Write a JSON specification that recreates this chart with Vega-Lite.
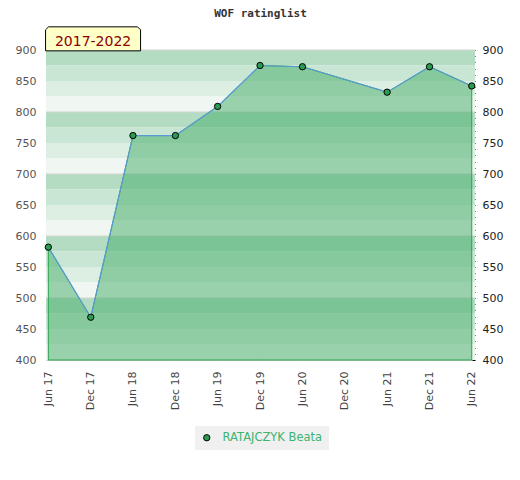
{
  "$schema": "https://vega.github.io/schema/vega-lite/v6.json",
  "width": 429,
  "height": 310,
  "autosize": "none",
  "padding": {"left": 46, "top": 50, "right": 45, "bottom": 120},
  "background": "#ffffff",
  "title": {"text": "WOF ratinglist", "font": "DejaVu Sans Mono", "fontSize": 11, "fontWeight": "bold", "color": "#333333", "anchor": "middle", "offset": 6},
  "datasets": {
    "bands": [
      {"lo": 875, "hi": 900, "shade": "q1"}, {"lo": 850, "hi": 875, "shade": "q2"}, {"lo": 825, "hi": 850, "shade": "q3"}, {"lo": 800, "hi": 825, "shade": "q4"},
      {"lo": 775, "hi": 800, "shade": "q1"}, {"lo": 750, "hi": 775, "shade": "q2"}, {"lo": 725, "hi": 750, "shade": "q3"}, {"lo": 700, "hi": 725, "shade": "q4"},
      {"lo": 675, "hi": 700, "shade": "q1"}, {"lo": 650, "hi": 675, "shade": "q2"}, {"lo": 625, "hi": 650, "shade": "q3"}, {"lo": 600, "hi": 625, "shade": "q4"},
      {"lo": 575, "hi": 600, "shade": "q1"}, {"lo": 550, "hi": 575, "shade": "q2"}, {"lo": 525, "hi": 550, "shade": "q3"}, {"lo": 500, "hi": 525, "shade": "q4"},
      {"lo": 475, "hi": 500, "shade": "q1"}, {"lo": 450, "hi": 475, "shade": "q2"}, {"lo": 425, "hi": 450, "shade": "q3"}, {"lo": 400, "hi": 425, "shade": "q4"}
    ],
    "grid": [{"g": 500}, {"g": 600}, {"g": 700}, {"g": 800}, {"g": 900}],
    "ratings": [
      {"date": "2017-06-01", "rating": 582, "player": "RATAJCZYK Beata"},
      {"date": "2017-12-01", "rating": 469, "player": "RATAJCZYK Beata"},
      {"date": "2018-06-01", "rating": 762, "player": "RATAJCZYK Beata"},
      {"date": "2018-12-01", "rating": 762, "player": "RATAJCZYK Beata"},
      {"date": "2019-06-01", "rating": 809, "player": "RATAJCZYK Beata"},
      {"date": "2019-12-01", "rating": 875, "player": "RATAJCZYK Beata"},
      {"date": "2020-06-01", "rating": 873, "player": "RATAJCZYK Beata"},
      {"date": "2021-06-01", "rating": 832, "player": "RATAJCZYK Beata"},
      {"date": "2021-12-01", "rating": 873, "player": "RATAJCZYK Beata"},
      {"date": "2022-06-01", "rating": 842, "player": "RATAJCZYK Beata"}
    ],
    "badge": [{"span": "2017-2022"}]
  },
  "layer": [
    {
      "data": {"name": "bands"},
      "mark": {"type": "rect"},
      "encoding": {
        "y": {"field": "lo", "type": "quantitative", "scale": {"domain": [400, 900], "nice": false, "zero": false}, "axis": {"title": null, "values": [400, 450, 500, 550, 600, 650, 700, 750, 800, 850, 900]}},
        "y2": {"field": "hi"},
        "fill": {"field": "shade", "type": "nominal", "scale": {"domain": ["q1", "q2", "q3", "q4"], "range": ["#b3dcc2", "#c8e6d3", "#ddefe3", "#f0f7f2"]}, "legend": null}
      }
    },
    {
      "data": {"name": "grid"},
      "mark": {"type": "rule", "stroke": "#d4d4d4", "strokeWidth": 1},
      "encoding": {
        "y": {"field": "g", "type": "quantitative", "scale": {"domain": [400, 900], "nice": false, "zero": false}, "axis": null}
      }
    },
    {
      "data": {"name": "ratings"},
      "mark": {"type": "area", "fill": "#44ac68", "fillOpacity": 0.5, "stroke": "#27a34c", "strokeWidth": 1},
      "encoding": {
        "x": {"field": "date", "type": "temporal", "scale": {"type": "utc", "domain": [{"year": 2017, "month": 5, "date": 22, "utc": true}, {"year": 2022, "month": 6, "date": 15, "utc": true}]},
          "axis": {"title": null, "format": "%b %y", "values": [
            {"year": 2017, "month": 6, "date": 1, "utc": true}, {"year": 2017, "month": 12, "date": 1, "utc": true},
            {"year": 2018, "month": 6, "date": 1, "utc": true}, {"year": 2018, "month": 12, "date": 1, "utc": true},
            {"year": 2019, "month": 6, "date": 1, "utc": true}, {"year": 2019, "month": 12, "date": 1, "utc": true},
            {"year": 2020, "month": 6, "date": 1, "utc": true}, {"year": 2020, "month": 12, "date": 1, "utc": true},
            {"year": 2021, "month": 6, "date": 1, "utc": true}, {"year": 2021, "month": 12, "date": 1, "utc": true},
            {"year": 2022, "month": 6, "date": 1, "utc": true}]}},
        "y": {"field": "rating", "type": "quantitative", "scale": {"domain": [400, 900], "nice": false, "zero": false}, "axis": null},
        "y2": {"datum": 400}
      }
    },
    {
      "data": {"name": "ratings"},
      "mark": {"type": "line", "stroke": "#5b9bd5", "strokeWidth": 1.2},
      "encoding": {
        "x": {"field": "date", "type": "temporal", "scale": {"type": "utc", "domain": [{"year": 2017, "month": 5, "date": 22, "utc": true}, {"year": 2022, "month": 6, "date": 15, "utc": true}]}, "axis": {"title": null}},
        "y": {"field": "rating", "type": "quantitative", "scale": {"domain": [400, 900], "nice": false, "zero": false}, "axis": null}
      }
    },
    {
      "data": {"name": "ratings"},
      "mark": {"type": "point", "filled": true, "size": 40, "stroke": "#000000", "strokeWidth": 1, "opacity": 1},
      "encoding": {
        "x": {"field": "date", "type": "temporal", "scale": {"type": "utc", "domain": [{"year": 2017, "month": 5, "date": 22, "utc": true}, {"year": 2022, "month": 6, "date": 15, "utc": true}]}, "axis": {"title": null}},
        "y": {"field": "rating", "type": "quantitative", "scale": {"domain": [400, 900], "nice": false, "zero": false},
          "axis": {"orient": "right", "title": null, "labelOverlap": false,
            "values": [400, 410, 420, 430, 440, 450, 460, 470, 480, 490, 500, 510, 520, 530, 540, 550, 560, 570, 580, 590, 600, 610, 620, 630, 640, 650, 660, 670, 680, 690, 700, 710, 720, 730, 740, 750, 760, 770, 780, 790, 800, 810, 820, 830, 840, 850, 860, 870, 880, 890, 900],
            "labelExpr": "datum.value % 50 === 0 ? datum.label : ''"}},
        "color": {"field": "player", "type": "nominal", "scale": {"range": ["#2b9b4f"]}, "legend": {"title": null, "orient": "none", "legendX": 149, "legendY": 376}}
      }
    },
    {
      "data": {"name": "badge"},
      "mark": {"type": "point", "shape": "M-1,0.2526L-1,-0.19L-0.937,-0.2526L0.937,-0.2526L1,-0.19L1,0.2526Z", "size": 9025, "filled": true, "fill": "#ffffc8", "stroke": "#000000", "strokeWidth": 1, "opacity": 1},
      "encoding": {
        "x": {"datum": {"year": 2017, "month": 12, "date": 11, "utc": true}, "type": "temporal", "scale": {"type": "utc", "domain": [{"year": 2017, "month": 5, "date": 22, "utc": true}, {"year": 2022, "month": 6, "date": 15, "utc": true}]}, "axis": {"title": null}},
        "y": {"datum": 918, "type": "quantitative", "scale": {"domain": [400, 900], "nice": false, "zero": false}, "axis": null}
      }
    },
    {
      "data": {"name": "badge"},
      "mark": {"type": "text", "font": "DejaVu Sans", "fontSize": 14, "fill": "#8b0000", "align": "center", "baseline": "alphabetic"},
      "encoding": {
        "x": {"datum": {"year": 2017, "month": 12, "date": 11, "utc": true}, "type": "temporal", "scale": {"type": "utc", "domain": [{"year": 2017, "month": 5, "date": 22, "utc": true}, {"year": 2022, "month": 6, "date": 15, "utc": true}]}, "axis": {"title": null}},
        "y": {"datum": 907, "type": "quantitative", "scale": {"domain": [400, 900], "nice": false, "zero": false}, "axis": null},
        "text": {"field": "span"}
      }
    }
  ],
  "resolve": {"axis": {"y": "independent"}},
  "config": {
    "view": {"stroke": null},
    "axis": {"labelFont": "DejaVu Sans", "labelFontSize": 11, "grid": false},
    "axisX": {"domainColor": "#cfcfcf", "ticks": false, "labelAngle": 270, "labelPadding": 11, "labelColor": "#444444", "zindex": 1},
    "axisLeft": {"domainColor": "#cfcfcf", "ticks": false, "labelPadding": 10, "labelColor": "#555555"},
    "axisRight": {"domain": false, "ticks": true, "tickSize": 3, "tickColor": "#000000", "offset": -3, "labelPadding": 7, "labelColor": "#222222"},
    "legend": {"fillColor": "#f0f0f0", "padding": 6, "labelColor": "#3cb371", "labelFont": "DejaVu Sans", "labelFontSize": 11.5, "symbolStrokeColor": "#000000", "symbolStrokeWidth": 1, "symbolSize": 40, "symbolType": "circle", "labelOffset": 10}
  }
}
